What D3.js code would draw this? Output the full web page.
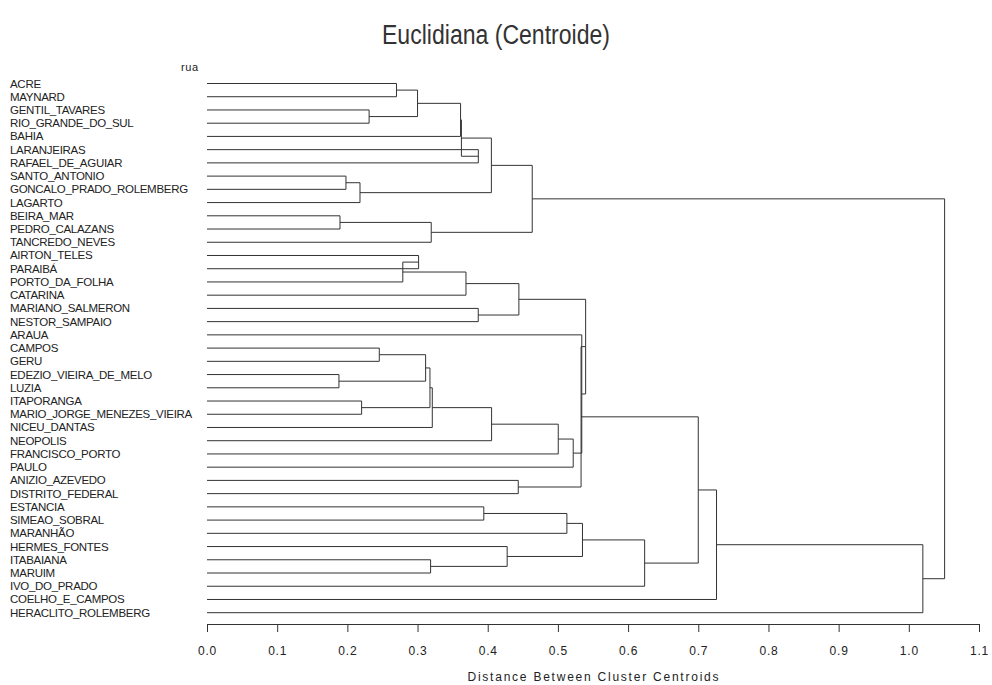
<!DOCTYPE html>
<html>
<head>
<meta charset="utf-8">
<script src="https://cdn.jsdelivr.net/npm/d3@7"></script>
<style>
  body { margin: 0; background: #fff; }
  svg { display: block; }
  text { font-family: "Liberation Sans Narrow", "Liberation Sans", Arial, sans-serif; fill: #222; }
</style>
</head>
<body>
<svg width="992" height="685"></svg>
<script>
// leaves, top to bottom
var leaves = ['ACRE', 'MAYNARD', 'GENTIL_TAVARES', 'RIO_GRANDE_DO_SUL', 'BAHIA',
  'LARANJEIRAS', 'RAFAEL_DE_AGUIAR', 'SANTO_ANTONIO', 'GONCALO_PRADO_ROLEMBERG', 'LAGARTO',
  'BEIRA_MAR', 'PEDRO_CALAZANS', 'TANCREDO_NEVES', 'AIRTON_TELES', 'PARAIBÁ',
  'PORTO_DA_FOLHA', 'CATARINA', 'MARIANO_SALMERON', 'NESTOR_SAMPAIO', 'ARAUA',
  'CAMPOS', 'GERU', 'EDEZIO_VIEIRA_DE_MELO', 'LUZIA', 'ITAPORANGA',
  'MARIO_JORGE_MENEZES_VIEIRA', 'NICEU_DANTAS', 'NEOPOLIS', 'FRANCISCO_PORTO', 'PAULO',
  'ANIZIO_AZEVEDO', 'DISTRITO_FEDERAL', 'ESTANCIA', 'SIMEAO_SOBRAL', 'MARANHÃO',
  'HERMES_FONTES', 'ITABAIANA', 'MARUIM', 'IVO_DO_PRADO', 'COELHO_E_CAMPOS',
  'HERACLITO_ROLEMBERG'];

// cluster history: [child a, child b, distance]; CLn = n-th row of this list
var mergeA = ['SANTO_ANTONIO', 'EDEZIO_VIEIRA_DE_MELO', 'BEIRA_MAR', 'CL1', 'ITAPORANGA',
  'GENTIL_TAVARES', 'CAMPOS', 'ACRE', 'AIRTON_TELES', 'CL9',
  'CL8', 'CL7', 'CL12', 'ITABAIANA', 'CL3',
  'CL13', 'CL11', 'LARANJEIRAS', 'CL17', 'CL10',
  'MARIANO_SALMERON', 'ESTANCIA', 'CL19', 'CL16', 'HERMES_FONTES',
  'ANIZIO_AZEVEDO', 'CL20', 'CL23', 'CL24', 'CL22',
  'CL29', 'ARAUA', 'CL27', 'CL33', 'CL30',
  'CL35', 'CL34', 'CL37', 'CL38', 'CL28'];
var mergeB = ['GONCALO_PRADO_ROLEMBERG', 'LUZIA', 'PEDRO_CALAZANS', 'LAGARTO', 'MARIO_JORGE_MENEZES_VIEIRA',
  'RIO_GRANDE_DO_SUL', 'GERU', 'MAYNARD', 'PARAIBÁ', 'PORTO_DA_FOLHA',
  'CL6', 'CL2', 'CL5', 'MARUIM', 'TANCREDO_NEVES',
  'NICEU_DANTAS', 'BAHIA', 'RAFAEL_DE_AGUIAR', 'CL18', 'CATARINA',
  'NESTOR_SAMPAIO', 'SIMEAO_SOBRAL', 'CL4', 'NEOPOLIS', 'CL14',
  'DISTRITO_FEDERAL', 'CL21', 'CL15', 'FRANCISCO_PORTO', 'MARANHÃO',
  'PAULO', 'CL31', 'CL32', 'CL26', 'CL25',
  'IVO_DO_PRADO', 'CL36', 'COELHO_E_CAMPOS', 'HERACLITO_ROLEMBERG', 'CL39'];
var mergeDist = [0.198, 0.188, 0.1895, 0.218, 0.2203,
  0.231, 0.2455, 0.270, 0.3015, 0.279,
  0.300, 0.3115, 0.3177, 0.3186, 0.3195,
  0.321, 0.3613, 0.3866, 0.3625, 0.369,
  0.3865, 0.3944, 0.4052, 0.4055, 0.4277,
  0.4435, 0.4444, 0.4634, 0.5005, 0.5128,
  0.5218, 0.534, 0.5395, 0.533, 0.535,
  0.6236, 0.700, 0.726, 1.020, 1.051];

var xTicks = [0, 0.1, 0.2, 0.3, 0.4, 0.5, 0.6, 0.7, 0.8, 0.9, 1.0, 1.1];

var svg = d3.select('svg');

var x = d3.scaleLinear().domain([0, 1.1]).range([207, 979]);
var y = d3.scalePoint().domain(leaves).range([83.5, 612.7]);

// position of every node: leaves at 0, clusters at the midpoint of their children
var nodes = {};
leaves.forEach(function(d) {
  nodes[d] = {h: 0, y: y(d)};
});

var links = [];
mergeDist.forEach(function(h, i) {
  var a = nodes[mergeA[i]];
  var b = nodes[mergeB[i]];
  links.push({a: a, b: b, h: h});
  nodes['CL' + (i + 1)] = {h: h, y: (a.y + b.y) / 2};
});

svg.append('g')
  .selectAll('path')
  .data(links)
  .enter()
  .append('path')
  .attr('d', function(d) {
    return 'M' + x(d.a.h) + ',' + d.a.y +
      'H' + x(d.h) +
      'V' + d.b.y +
      'H' + x(d.b.h);
  })
  .attr('fill', 'none')
  .attr('stroke', '#333')
  .attr('stroke-width', 1);

// leaf names
svg.append('g')
  .selectAll('text')
  .data(leaves)
  .enter()
  .append('text')
  .attr('x', 10)
  .attr('y', function(d) { return y(d) + 4; })
  .style('font-size', '11.5px')
  .style('letter-spacing', '-0.3px')
  .text(function(d) { return d; });

svg.append('text')
  .attr('x', 181)
  .attr('y', 71)
  .style('font-size', '11px')
  .style('letter-spacing', '0.6px')
  .text('rua');

// title
svg.append('text')
  .attr('x', 496)
  .attr('y', 44)
  .attr('text-anchor', 'middle')
  .attr('textLength', 228)
  .attr('lengthAdjust', 'spacingAndGlyphs')
  .style('font-size', '27px')
  .style('fill', '#333')
  .text('Euclidiana (Centroide)');

// axis
var axis = d3.axisBottom(x)
  .tickValues(xTicks)
  .tickFormat(d3.format('.1f'))
  .tickSize(8)
  .tickSizeOuter(0)
  .tickPadding(14);

var ax = svg.append('g')
  .attr('transform', 'translate(0,624)')
  .call(axis);
ax.selectAll('text')
  .style('font-size', '12px')
  .style('font-family', '"Liberation Sans", Arial, sans-serif')
  .style('letter-spacing', '0.8px')
  .attr('fill', '#222');
ax.selectAll('line, path').attr('stroke', '#333');

svg.append('text')
  .attr('x', 593)
  .attr('y', 681)
  .attr('text-anchor', 'middle')
  .attr('textLength', 251)
  .attr('lengthAdjust', 'spacing')
  .style('font-size', '12px')
  .text('Distance Between Cluster Centroids');
</script>
</body>
</html>
